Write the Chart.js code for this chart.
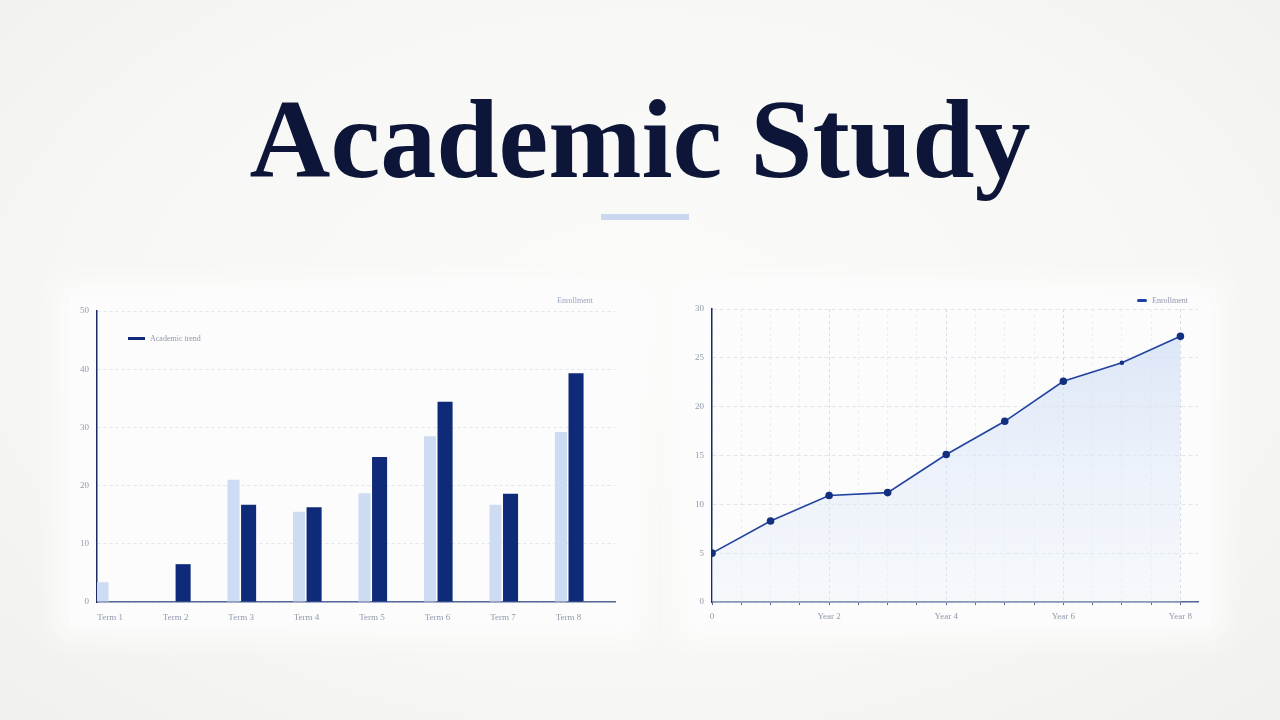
<!DOCTYPE html>
<html>
<head>
<meta charset="utf-8">
<script src="https://cdn.jsdelivr.net/npm/chart.js@4.4.1/dist/chart.umd.min.js"></script>
<style>
  html, body { margin: 0; padding: 0; }
  body {
    width: 1280px; height: 720px; overflow: hidden; position: relative;
    background: radial-gradient(ellipse at 50% 45%, #fbfbfa 0%, #f7f7f5 60%, #f0f0ec 100%);
    font-family: "Liberation Serif", serif;
  }
  h1 {
    position: absolute; left: 0; width: 1280px; top: 64px; margin: 0;
    text-align: center; font-weight: bold; font-size: 112px; letter-spacing: 0px;
    color: #0d1538; line-height: 150px;
  }
  .accent { position: absolute; left: 601px; top: 214px; width: 88px; height: 6px; background: #c9d8ef; }
  .panel {
    position: absolute; background: #fcfcfc;
    box-shadow: 0 0 24px 14px #fcfcfc;
  }
  .box { position: absolute; }
  .lg { position: absolute; font-size: 8px; color: #8f98ad; font-family: "Liberation Serif", serif; white-space: nowrap; }
  .sw { position: absolute; background: #0f2a78; }
</style>
</head>
<body>
<h1>Academic Study</h1>
<div class="accent"></div>

<div class="panel" style="left:70px;top:295px;width:560px;height:330px"></div>
<div class="panel" style="left:690px;top:295px;width:520px;height:330px"></div>

<div class="box" style="left:60px;top:290px;width:580px;height:340px"><canvas id="bars"></canvas></div>
<div class="box" style="left:680px;top:290px;width:540px;height:340px"><canvas id="line"></canvas></div>

<div class="lg" style="left:557px;top:296px;color:#9aa6c0">Enrollment</div>
<div class="sw" style="left:128px;top:337px;width:17px;height:3px"></div>
<div class="lg" style="left:150px;top:334px">Academic trend</div>
<div class="sw" style="left:1137px;top:299px;width:10px;height:3px;border-radius:2px;background:#1d3fa0"></div>
<div class="lg" style="left:1152px;top:296px">Enrollment</div>

<script>
// left chart: two series per term
var terms = ['Term 1', 'Term 2', 'Term 3', 'Term 4', 'Term 5', 'Term 6', 'Term 7', 'Term 8'];
var enrollment = [3.4, 0, 21, 15.5, 18.7, 28.5, 16.7, 29.2];
var academic = [0, 6.5, 16.7, 16.3, 24.9, 34.4, 18.6, 39.3];
var barTicks = [0, 10, 20, 30, 40, 50];

// right chart: cumulative trend
var years = ['0', 'Year 1', 'Year 2', 'Year 3', 'Year 4', 'Year 5', 'Year 6', 'Year 7', 'Year 8'];
var trend = [5.0, 8.3, 10.9, 11.2, 15.1, 18.5, 22.6, 24.5, 27.2];
var lineTicks = [0, 5, 10, 15, 20, 25, 30];

var tickFont = { family: 'Liberation Serif', size: 9 };
var tickColor = '#9099ad';

function xy(arr) {
  return arr.map(function (v, i) { return { x: i, y: v }; });
}

new Chart(document.getElementById('bars'), {
  type: 'bar',
  data: {
    datasets: [
      { label: 'Enrollment', data: xy(enrollment), backgroundColor: '#cddcf2', barPercentage: 0.8, categoryPercentage: 0.46 },
      { label: 'Academic trend', data: xy(academic), backgroundColor: '#0f2a78', barPercentage: 1.0, categoryPercentage: 0.46 }
    ]
  },
  options: {
    responsive: true, maintainAspectRatio: false, animation: false,
    layout: { padding: { top: 21, right: 25, bottom: 0, left: 0 } },
    plugins: { legend: { display: false }, tooltip: { enabled: false } },
    scales: {
      x: {
        type: 'linear', min: -0.2, max: 7.71, offset: false,
        afterBuildTicks: function (s) { s.ticks = terms.map(function (t, i) { return { value: i }; }); },
        afterFit: function (s) { s.height = 28; },
        grid: { display: false },
        border: { color: '#56689a', width: 1.5 },
        ticks: { font: tickFont, color: tickColor, padding: 2, maxRotation: 0,
          callback: function (v) { return terms[v]; } }
      },
      y: {
        min: 0, max: 50,
        afterBuildTicks: function (s) { s.ticks = barTicks.map(function (v) { return { value: v }; }); },
        afterFit: function (s) { s.width = 37; },
        grid: { color: '#e1e5ed', lineWidth: 1, drawTicks: false },
        border: { color: '#1c2b66', width: 1.5, dash: [3, 3] },
        ticks: { font: tickFont, color: tickColor, padding: 8 }
      }
    }
  }
});

new Chart(document.getElementById('line'), {
  type: 'line',
  data: {
    datasets: [{
      label: 'Enrollment', data: xy(trend),
      borderColor: '#2142a0', borderWidth: 1.6,
      pointBackgroundColor: '#12307f', pointBorderColor: '#12307f',
      pointRadius: trend.map(function (v, i) { return i === 7 ? 1.5 : 3; }),
      tension: 0, fill: 'origin',
      backgroundColor: function (ctx) {
        var a = ctx.chart.chartArea;
        if (!a) return 'rgba(210,224,245,0.5)';
        var g = ctx.chart.ctx.createLinearGradient(0, a.top, 0, a.bottom);
        g.addColorStop(0, 'rgba(205,220,244,0.75)');
        g.addColorStop(1, 'rgba(235,241,251,0.35)');
        return g;
      }
    }]
  },
  options: {
    responsive: true, maintainAspectRatio: false, animation: false,
    layout: { padding: { top: 19, right: 22, bottom: 0, left: 0 } },
    plugins: { legend: { display: false }, tooltip: { enabled: false } },
    scales: {
      x: {
        type: 'linear', min: 0, max: 8.3,
        afterBuildTicks: function (s) {
          var t = [];
          for (var i = 0; i <= 16; i++) t.push({ value: i / 2 });
          s.ticks = t;
        },
        afterFit: function (s) { s.height = 28; },
        grid: {
          color: function (c) { return c.tick && c.tick.value % 2 === 0 && c.tick.value > 0 ? '#d6dbe5' : '#eceef3'; },
          tickColor: '#56689a', tickLength: 3,
          drawTicks: true
        },
        border: { color: '#56689a', width: 1.5, dash: [3, 3] },
        ticks: { font: tickFont, color: tickColor, padding: 6, maxRotation: 0, autoSkip: false,
          callback: function (v) { return v % 2 === 0 ? years[v] : ''; } }
      },
      y: {
        min: 0, max: 30,
        afterBuildTicks: function (s) { s.ticks = lineTicks.map(function (v) { return { value: v }; }); },
        afterFit: function (s) { s.width = 32; },
        grid: { color: '#e0e4eb', drawTicks: false },
        border: { color: '#1c2b66', width: 1.5, dash: [4, 3] },
        ticks: { font: tickFont, color: tickColor, padding: 8 }
      }
    }
  }
});
</script>
</body>
</html>
